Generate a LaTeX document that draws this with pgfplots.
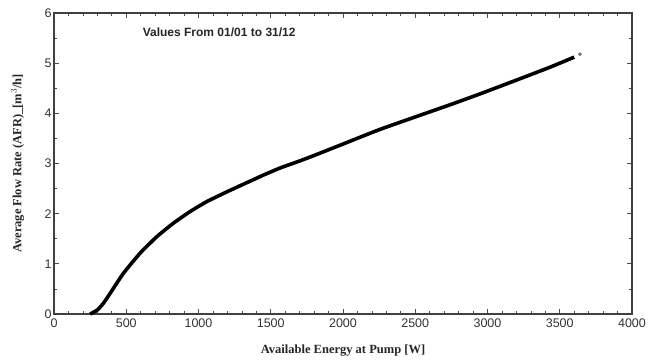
\documentclass[border=0pt]{standalone}
\usepackage{pgfplots}
\pgfplotsset{compat=1.18}
\usepackage{fontspec}
\setmainfont{Liberation Serif}
\setsansfont{Liberation Sans}
\begin{document}
\begin{tikzpicture}
\useasboundingbox (-54pt,-48pt) rectangle (594pt,314pt);
\begin{axis}[
  at={(0pt,0pt)}, anchor=south west,
  scale only axis,
  width=578pt, height=301pt,
  xmin=0, xmax=4000, ymin=0, ymax=6,
  xtick={0,500,...,4000}, ytick={0,1,...,6},
  minor x tick num=4, minor y tick num=1,
  tick align=inside,
  major tick length=5pt, minor tick length=3pt,
  axis line style={draw=black!75, line width=1.3pt},
  every tick/.style={black!70, line width=0.7pt},
  tick label style={font=\sffamily\fontsize{12.5}{14}\selectfont, text=black!80},
  xticklabel style={yshift=-1pt},
  yticklabel style={xshift=1pt},
  /pgf/number format/assume math mode=true,
  /pgf/number format/1000 sep={},
  scaled ticks=false,
  xlabel={Available Energy at Pump [W]},
  ylabel={Average Flow Rate (AFR)\_[m$^{3}$/h]},
  every axis x label/.style={at={(axis description cs:0.5,-0.123)}, anchor=center, font=\rmfamily\bfseries\fontsize{12.5}{14}\selectfont, text=black!85},
  every axis y label/.style={at={(axis description cs:-0.063,0.5)}, anchor=center, rotate=90, font=\rmfamily\bfseries\fontsize{12.5}{14}\selectfont, text=black!85},
  clip=false,
]
\addplot[black, line width=3.6pt, smooth, tension=0.3] coordinates {
(250,0) (300,0.08) (341,0.21) (388,0.41) (480,0.81) (595,1.21) (711,1.54) (826,1.81) (941,2.04) (1057,2.24) (1200,2.44) (1336,2.62) (1450,2.77) (1564,2.91) (1700,3.05) (1800,3.16) (2028,3.42) (2256,3.68) (2512,3.94) (2750,4.18) (2969,4.41) (3225,4.69) (3433,4.92) (3600,5.12)
};
\addplot[only marks, mark=*, mark size=1.6pt, black!55] coordinates {(3640,5.18)};
\node[anchor=west, font=\sffamily\bfseries\fontsize{12}{14}\selectfont, text=black!85] at (axis cs:590,5.62) {Values From 01/01 to 31/12};
\end{axis}
\end{tikzpicture}
\end{document}
